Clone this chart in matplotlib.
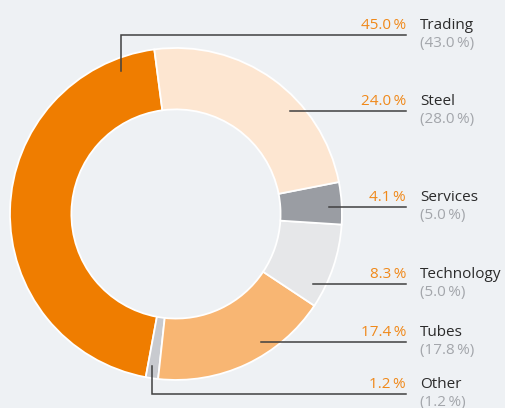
import numpy as np
import matplotlib
matplotlib.use("Agg")
import matplotlib.pyplot as plt

# share of sales by segment, current year and (previous year)
segments = ["Trading", "Other", "Tubes", "Technology", "Services", "Steel"]
shares = [45.0, 1.2, 17.4, 8.3, 4.1, 24.0]
prev_shares = [43.0, 1.2, 17.8, 5.0, 5.0, 28.0]

colors = ["#ef7d00", "#c8cacf", "#f8b673", "#e6e7e9", "#9a9da3", "#fde6d1"]

# label rows (data units, pie radius = 1) and elbow angles for the two
# labels that sit above / below the ring
label_y = [1.078, -1.084, -0.771, -0.422, 0.042, 0.620]
elbow_angle = [111.0, 261.0, None, None, None, None]

BG = "#eef1f4"
INK = "#2b2b2b"
LINE = "#404040"
PCT = "#f0891a"
PREV = "#a3a6ab"

plt.rcParams["font.family"] = ["Open Sans", "DejaVu Sans"]

fig = plt.figure(figsize=(5.05, 4.08), dpi=100)
fig.patch.set_facecolor(BG)
ax = fig.add_axes([0, 0, 1, 1])
ax.set_facecolor(BG)
ax.axis("off")

start = 97.5
wedges, _ = ax.pie(
    shares, colors=colors, startangle=start, counterclock=True,
    radius=1.0, wedgeprops=dict(width=0.37, edgecolor="white", linewidth=1.3),
)
ax.set_xlim(-1.060, 1.982)
ax.set_ylim(-1.169, 1.289)
ax.set_aspect("equal")

r_anchor = 0.925
x_end = 1.386
x_name = 1.470
px = 1 / 166.0
fs = 11
for w, name, s, p, ly, ea in zip(wedges, segments, shares, prev_shares, label_y, elbow_angle):
    if ea is not None:
        a = np.deg2rad(ea)
        ax0, ay0 = r_anchor * np.cos(a), r_anchor * np.sin(a)
        ax.plot([ax0, ax0, x_end], [ay0, ly, ly], color=LINE, lw=1.1,
                solid_joinstyle="miter")
    else:
        ax0 = np.sqrt(r_anchor ** 2 - ly ** 2)
        ax.plot([ax0, x_end], [ly, ly], color=LINE, lw=1.1)
    ax.text(x_end, ly + 6 * px, f"{s:.1f}\u2009%", ha="right", va="baseline",
            color=PCT, fontsize=fs)
    ax.text(x_name, ly + 6 * px, name, ha="left", va="baseline",
            color=INK, fontsize=fs)
    ax.text(x_name, ly - 12 * px, f"({p:.1f}\u2009%)", ha="left", va="baseline",
            color=PREV, fontsize=fs)

fig.savefig("out.png", dpi=100, facecolor=BG)
